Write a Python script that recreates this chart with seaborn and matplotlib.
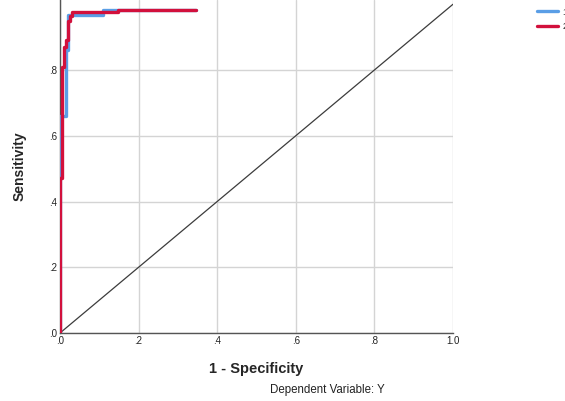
import matplotlib
matplotlib.use("Agg")
import matplotlib.pyplot as plt
import seaborn as sns
import pandas as pd

# ROC curve points (1 - specificity, sensitivity)
fpr_1 = [0.0, 0.0, 0.0, 0.015, 0.015, 0.02, 0.02, 0.11, 0.11, 0.347]
tpr_1 = [0.0, 0.47, 0.66, 0.66, 0.86, 0.86, 0.967, 0.967, 0.983, 0.983]
fpr_2 = [0.0, 0.0, 0.005, 0.005, 0.01, 0.01, 0.016, 0.016, 0.021, 0.021, 0.025, 0.025,
         0.03, 0.03, 0.148, 0.148, 0.347]
tpr_2 = [0.0, 0.47, 0.47, 0.81, 0.81, 0.87, 0.87, 0.89, 0.89, 0.95, 0.95, 0.965,
         0.965, 0.977, 0.977, 0.984, 0.984]
ref_x = [0.0, 1.0]
ref_y = [0.0, 1.0]
series_labels = ["1", "2"]
tick_vals = [0.0, 0.2, 0.4, 0.6, 0.8, 1.0]
tick_labels = [".0", ".2", ".4", ".6", ".8", "1.0"]

sns.set_style("white")
plt.rcParams["font.family"] = ["Arial", "Liberation Sans", "DejaVu Sans"]

fig = plt.figure(figsize=(5.65, 4.01), dpi=100)
ax = fig.add_axes([60 / 565, 1 - 333 / 401, 393 / 565, 333 / 401])

df1 = pd.DataFrame({"x": fpr_1, "y": tpr_1})
df2 = pd.DataFrame({"x": fpr_2, "y": tpr_2})
dfr = pd.DataFrame({"x": ref_x, "y": ref_y})

sns.lineplot(data=dfr, x="x", y="y", sort=False, estimator=None, ax=ax,
             color="#3c3c3c", lw=0.9, zorder=2)
sns.lineplot(data=df1, x="x", y="y", sort=False, estimator=None, ax=ax,
             color="#5a9ee6", lw=2.4, zorder=3, label=series_labels[0], legend=False)
sns.lineplot(data=df2, x="x", y="y", sort=False, estimator=None, ax=ax,
             color="#d2103c", lw=2.4, zorder=4, label=series_labels[1], legend=False)

ax.set_xlim(0, 1.0)
ax.set_ylim(0, 333 / 328.75)
ax.set_xticks(tick_vals)
ax.set_xticklabels(tick_labels)
ax.set_yticks(tick_vals[:-1])
ax.set_yticklabels(tick_labels[:-1])
ax.tick_params(axis="both", labelsize=7, colors="#222222", length=0, pad=2)
ax.grid(True, color="#d4d4d4", lw=1.0)
ax.set_axisbelow(True)
for s in ["top", "right"]:
    ax.spines[s].set_visible(False)
ax.spines["left"].set_color("#555555")
ax.spines["bottom"].set_color("#555555")
ax.spines["left"].set_linewidth(1.0)
ax.spines["bottom"].set_linewidth(1.0)

ax.set_xlabel("1 - Specificity", fontsize=10.5, fontweight="bold", labelpad=12)
ax.set_ylabel("Sensitivity", fontsize=10, fontweight="bold", labelpad=16)

fig.text(327 / 565, 1 - 390 / 401, "Dependent Variable: Y", fontsize=8.3,
         ha="center", va="center", color="#222222")

handles, labels = ax.get_legend_handles_labels()
fig.legend(handles, labels, loc="upper left", bbox_to_anchor=(533 / 565, 1.0 - 4 / 401),
           frameon=False, fontsize=6.5, handlelength=2.4, handletextpad=0.5,
           labelspacing=0.6, borderaxespad=0.0)

fig.savefig("out.png", dpi=100)
